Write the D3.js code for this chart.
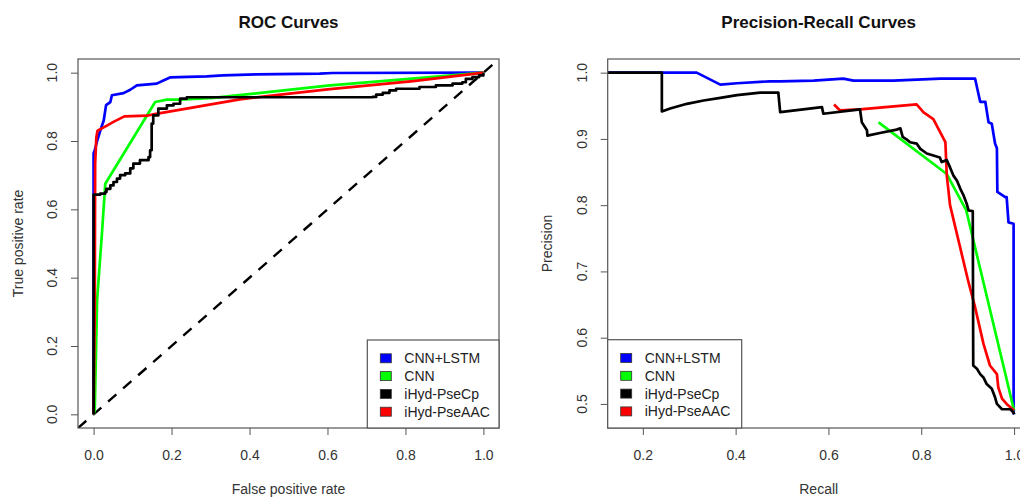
<!DOCTYPE html>
<html>
<head>
<meta charset="utf-8">
<script src="https://cdn.jsdelivr.net/npm/d3@7"></script>
<style>
  body { margin: 0; background: #fff; }
  svg { font-family: "Liberation Sans", Arial, Helvetica, sans-serif; }
</style>
</head>
<body>
<div id="chart"></div>
<script>
// series shared by both plots
var seriesNames = ["CNN+LSTM", "CNN", "iHyd-PseCp", "iHyd-PseAAC"];
var seriesColors = ["#0000ff", "#00ff00", "#000000", "#ff0000"];

// tick labels
var rocTicks = [0, 0.2, 0.4, 0.6, 0.8, 1.0];
var prXTicks = [0.2, 0.4, 0.6, 0.8, 1.0];
var prYTicks = [0.5, 0.6, 0.7, 0.8, 0.9, 1.0];

// axis limits (before R's 4% padding)
var rocLim = [0, 1];
var prRecallLim = [0.158, 1];
var prPrecisionLim = [0.4843, 1];

// ROC curves (false positive rate / true positive rate)
var rocLstmFpr = [0, 0, 0.003, 0.009, 0.017, 0.026, 0.032, 0.043, 0.047, 0.077, 0.094, 0.111, 0.162, 0.179, 0.196, 0.29, 0.332, 0.418, 0.58, 0.613, 1.0];
var rocLstmTpr = [0, 0.764, 0.773, 0.80, 0.83, 0.86, 0.905, 0.914, 0.934, 0.94, 0.95, 0.963, 0.968, 0.977, 0.986, 0.989, 0.992, 0.995, 0.997, 0.999, 1.0];

var rocCnnFpr = [0, 0.003, 0.009, 0.022, 0.03, 0.158, 0.188, 0.222, 0.307, 0.6, 0.972, 1.0];
var rocCnnTpr = [0, 0.013, 0.334, 0.539, 0.675, 0.914, 0.921, 0.921, 0.926, 0.962, 0.997, 1.0];

var rocCpFpr = [0, 0, 0.017, 0.03, 0.033, 0.043, 0.051, 0.06, 0.068, 0.081, 0.094, 0.102, 0.119, 0.141, 0.145, 0.149, 0.153, 0.166, 0.188, 0.205, 0.222, 0.239, 0.716, 0.725, 0.742, 0.759, 0.776, 0.836, 0.878, 0.921, 0.946, 0.955, 0.972, 0.989, 1.0];
var rocCpTpr = [0, 0.643, 0.646, 0.651, 0.66, 0.67, 0.68, 0.69, 0.70, 0.705, 0.72, 0.734, 0.744, 0.753, 0.773, 0.851, 0.875, 0.895, 0.904, 0.909, 0.924, 0.928, 0.929, 0.936, 0.941, 0.948, 0.953, 0.958, 0.963, 0.968, 0.972, 0.982, 0.987, 0.992, 1.0];

var rocAacFpr = [0, 0.003, 0.004, 0.007, 0.01, 0.026, 0.051, 0.079, 0.137, 0.153, 0.375, 0.6, 0.82, 0.98, 1.0];
var rocAacTpr = [0, 0.3, 0.734, 0.81, 0.83, 0.84, 0.856, 0.872, 0.874, 0.878, 0.922, 0.951, 0.975, 0.997, 1.0];

// Precision-recall curves
var prLstmRecall = [0.10, 0.316, 0.367, 0.403, 0.474, 0.496, 0.568, 0.632, 0.654, 0.74, 0.841, 0.916, 0.921, 0.927, 0.938, 0.945, 0.952, 0.959, 0.963, 0.964, 0.981, 0.984, 0.988, 0.999, 0.999, 1.0];
var prLstmPrecision = [1.0, 1.0, 0.982, 0.984, 0.987, 0.987, 0.988, 0.991, 0.988, 0.988, 0.991, 0.991, 0.975, 0.956, 0.956, 0.925, 0.923, 0.893, 0.886, 0.82, 0.812, 0.812, 0.774, 0.772, 0.487, 0.4843];

var prCnnRecall = [0.708, 0.855, 0.897, 1.0];
var prCnnPrecision = [0.925, 0.847, 0.792, 0.49];

var prCpRecall = [0.10, 0.241, 0.241, 0.259, 0.295, 0.331, 0.367, 0.403, 0.453, 0.492, 0.496, 0.586, 0.589, 0.668, 0.672, 0.683, 0.684, 0.711, 0.747, 0.755, 0.76, 0.769, 0.776, 0.79, 0.798, 0.812, 0.84, 0.844, 0.855, 0.862, 0.869, 0.877, 0.884, 0.891, 0.898, 0.902, 0.911, 0.912, 0.92, 0.927, 0.934, 0.941, 0.952, 0.959, 0.963, 0.974, 0.992, 0.999, 1.0];
var prCpPrecision = [1.0, 1.0, 0.9415, 0.946, 0.953, 0.958, 0.962, 0.966, 0.970, 0.970, 0.9405, 0.948, 0.938, 0.9445, 0.925, 0.913, 0.905, 0.909, 0.914, 0.916, 0.903, 0.899, 0.895, 0.893, 0.885, 0.878, 0.872, 0.865, 0.868, 0.857, 0.845, 0.837, 0.825, 0.815, 0.802, 0.792, 0.791, 0.558, 0.553, 0.545, 0.54, 0.53, 0.523, 0.51, 0.50, 0.492, 0.492, 0.487, 0.4843];

var prAacRecall = [0.612, 0.625, 0.668, 0.79, 0.805, 0.826, 0.852, 0.855, 0.862, 0.901, 0.916, 0.934, 0.948, 0.963, 0.966, 0.974, 0.984, 1.0];
var prAacPrecision = [0.952, 0.943, 0.9445, 0.952, 0.940, 0.930, 0.895, 0.845, 0.80, 0.686, 0.646, 0.591, 0.558, 0.545, 0.525, 0.508, 0.50, 0.49];

var width = 1020, height = 497;
var svg = d3.select("#chart").append("svg")
    .attr("width", width)
    .attr("height", height);

// R pads each axis range by 4% on both sides
function rExtend(lim) {
    var d = (lim[1] - lim[0]) * 0.04;
    return [lim[0] - d, lim[1] + d];
}

function drawPanel(cfg)
{
    var x = d3.scaleLinear().domain(rExtend(cfg.xlim)).range([cfg.left, cfg.right]);
    var y = d3.scaleLinear().domain(rExtend(cfg.ylim)).range([cfg.bottom, cfg.top]);
    var g = svg.append("g");

    svg.append("clipPath").attr("id", "clip-" + cfg.id)
      .append("rect")
        .attr("x", cfg.left).attr("y", cfg.top)
        .attr("width", cfg.right - cfg.left)
        .attr("height", cfg.bottom - cfg.top);

    var plot = g.append("g").attr("clip-path", "url(#clip-" + cfg.id + ")");

    // abline(0, 1) for the ROC plot
    if (cfg.diagonal) {
        var dom = x.domain();
        plot.append("line")
            .attr("x1", x(dom[0])).attr("y1", y(dom[0]))
            .attr("x2", x(dom[1])).attr("y2", y(dom[1]))
            .attr("stroke", "#000")
            .attr("stroke-width", 2.4)
            .attr("stroke-dasharray", "11,9");
    }

    // blue, green, red, black on top
    [0, 1, 3, 2].forEach(function(i) {
        var s = cfg.series[i];
        var line = d3.line()
            .curve(s.step ? d3.curveStepAfter : d3.curveLinear)
            .x(function(d) { return x(d[0]); })
            .y(function(d) { return y(d[1]); });
        plot.append("path")
            .datum(d3.zip(s.x, s.y))
            .attr("d", line)
            .attr("fill", "none")
            .attr("stroke", seriesColors[i])
            .attr("stroke-width", 2.7)
            .attr("stroke-linejoin", "round");
    });

    // x axis
    var xa = g.append("g")
        .attr("transform", "translate(0," + cfg.bottom + ")")
        .call(d3.axisBottom(x).tickValues(cfg.xticks).tickFormat(d3.format(".1f")).tickSize(7).tickPadding(15));
    // y axis, labels drawn rotated like R
    var ya = g.append("g")
        .attr("transform", "translate(" + cfg.left + ",0)")
        .call(d3.axisLeft(y).tickValues(cfg.yticks).tickFormat("").tickSize(7));
    [xa, ya].forEach(function(a) {
        a.select(".domain").remove();
        a.selectAll("line").attr("stroke", "#555");
        a.selectAll("text").attr("fill", "#333").style("font-size", "14px");
    });
    g.selectAll(".ylab-" + cfg.id)
        .data(cfg.yticks)
      .enter().append("text")
        .attr("transform", function(d) { return "translate(" + (cfg.left - 21) + "," + y(d) + ") rotate(-90)"; })
        .attr("text-anchor", "middle")
        .attr("fill", "#333")
        .style("font-size", "14px")
        .text(d3.format(".1f"));

    // box
    g.append("rect")
        .attr("x", cfg.left).attr("y", cfg.top)
        .attr("width", cfg.right - cfg.left)
        .attr("height", cfg.bottom - cfg.top)
        .attr("fill", "none")
        .attr("stroke", "#555")
        .attr("stroke-width", 1.2);

    var cx = (cfg.left + cfg.right) / 2;
    g.append("text")
        .attr("x", cx).attr("y", 28)
        .attr("text-anchor", "middle")
        .style("font-size", "17px").style("font-weight", "bold")
        .attr("fill", "#111")
        .text(cfg.title);
    g.append("text")
        .attr("x", cx).attr("y", 494)
        .attr("text-anchor", "middle")
        .style("font-size", "14px")
        .attr("fill", "#333")
        .text(cfg.xlabel);
    g.append("text")
        .attr("transform", "translate(" + cfg.ylabelX + "," + ((cfg.top + cfg.bottom) / 2) + ") rotate(-90)")
        .attr("text-anchor", "middle")
        .style("font-size", "14px")
        .attr("fill", "#333")
        .text(cfg.ylabel);

    // legend
    var lg = g.append("g").attr("transform", "translate(" + cfg.legendX + "," + cfg.legendTop + ")");
    lg.append("rect")
        .attr("width", cfg.legendW)
        .attr("height", cfg.bottom - cfg.legendTop)
        .attr("fill", "#fff")
        .attr("stroke", "#555")
        .attr("stroke-width", 1.2);
    var item = lg.selectAll(".item")
        .data(seriesNames)
      .enter().append("g")
        .attr("transform", function(d, i) { return "translate(0," + (18.3 + i * 17.8) + ")"; });
    item.append("rect")
        .attr("x", 13).attr("y", -4.5)
        .attr("width", 11).attr("height", 9)
        .attr("fill", function(d, i) { return seriesColors[i]; })
        .attr("stroke", "#333")
        .attr("stroke-width", 0.8);
    item.append("text")
        .attr("x", 37).attr("y", 5)
        .style("font-size", "14px")
        .attr("fill", "#222")
        .text(function(d) { return d; });
}

drawPanel({
    id: "roc", title: "ROC Curves",
    xlabel: "False positive rate", ylabel: "True positive rate",
    left: 78, right: 499, top: 59, bottom: 428, ylabelX: 23,
    xlim: rocLim, ylim: rocLim, xticks: rocTicks, yticks: rocTicks,
    diagonal: true,
    legendX: 367.3, legendW: 131.7, legendTop: 340,
    series: [
        {x: rocLstmFpr, y: rocLstmTpr},
        {x: rocCnnFpr, y: rocCnnTpr},
        {x: rocCpFpr, y: rocCpTpr, step: true},
        {x: rocAacFpr, y: rocAacTpr}
    ]
});

drawPanel({
    id: "pr", title: "Precision-Recall Curves",
    xlabel: "Recall", ylabel: "Precision",
    left: 607.7, right: 1029.7, top: 59, bottom: 428, ylabelX: 552,
    xlim: prRecallLim, ylim: prPrecisionLim, xticks: prXTicks, yticks: prYTicks,
    diagonal: false,
    legendX: 607.7, legendW: 134, legendTop: 339.7,
    series: [
        {x: prLstmRecall, y: prLstmPrecision},
        {x: prCnnRecall, y: prCnnPrecision},
        {x: prCpRecall, y: prCpPrecision},
        {x: prAacRecall, y: prAacPrecision}
    ]
});
</script>
</body>
</html>
